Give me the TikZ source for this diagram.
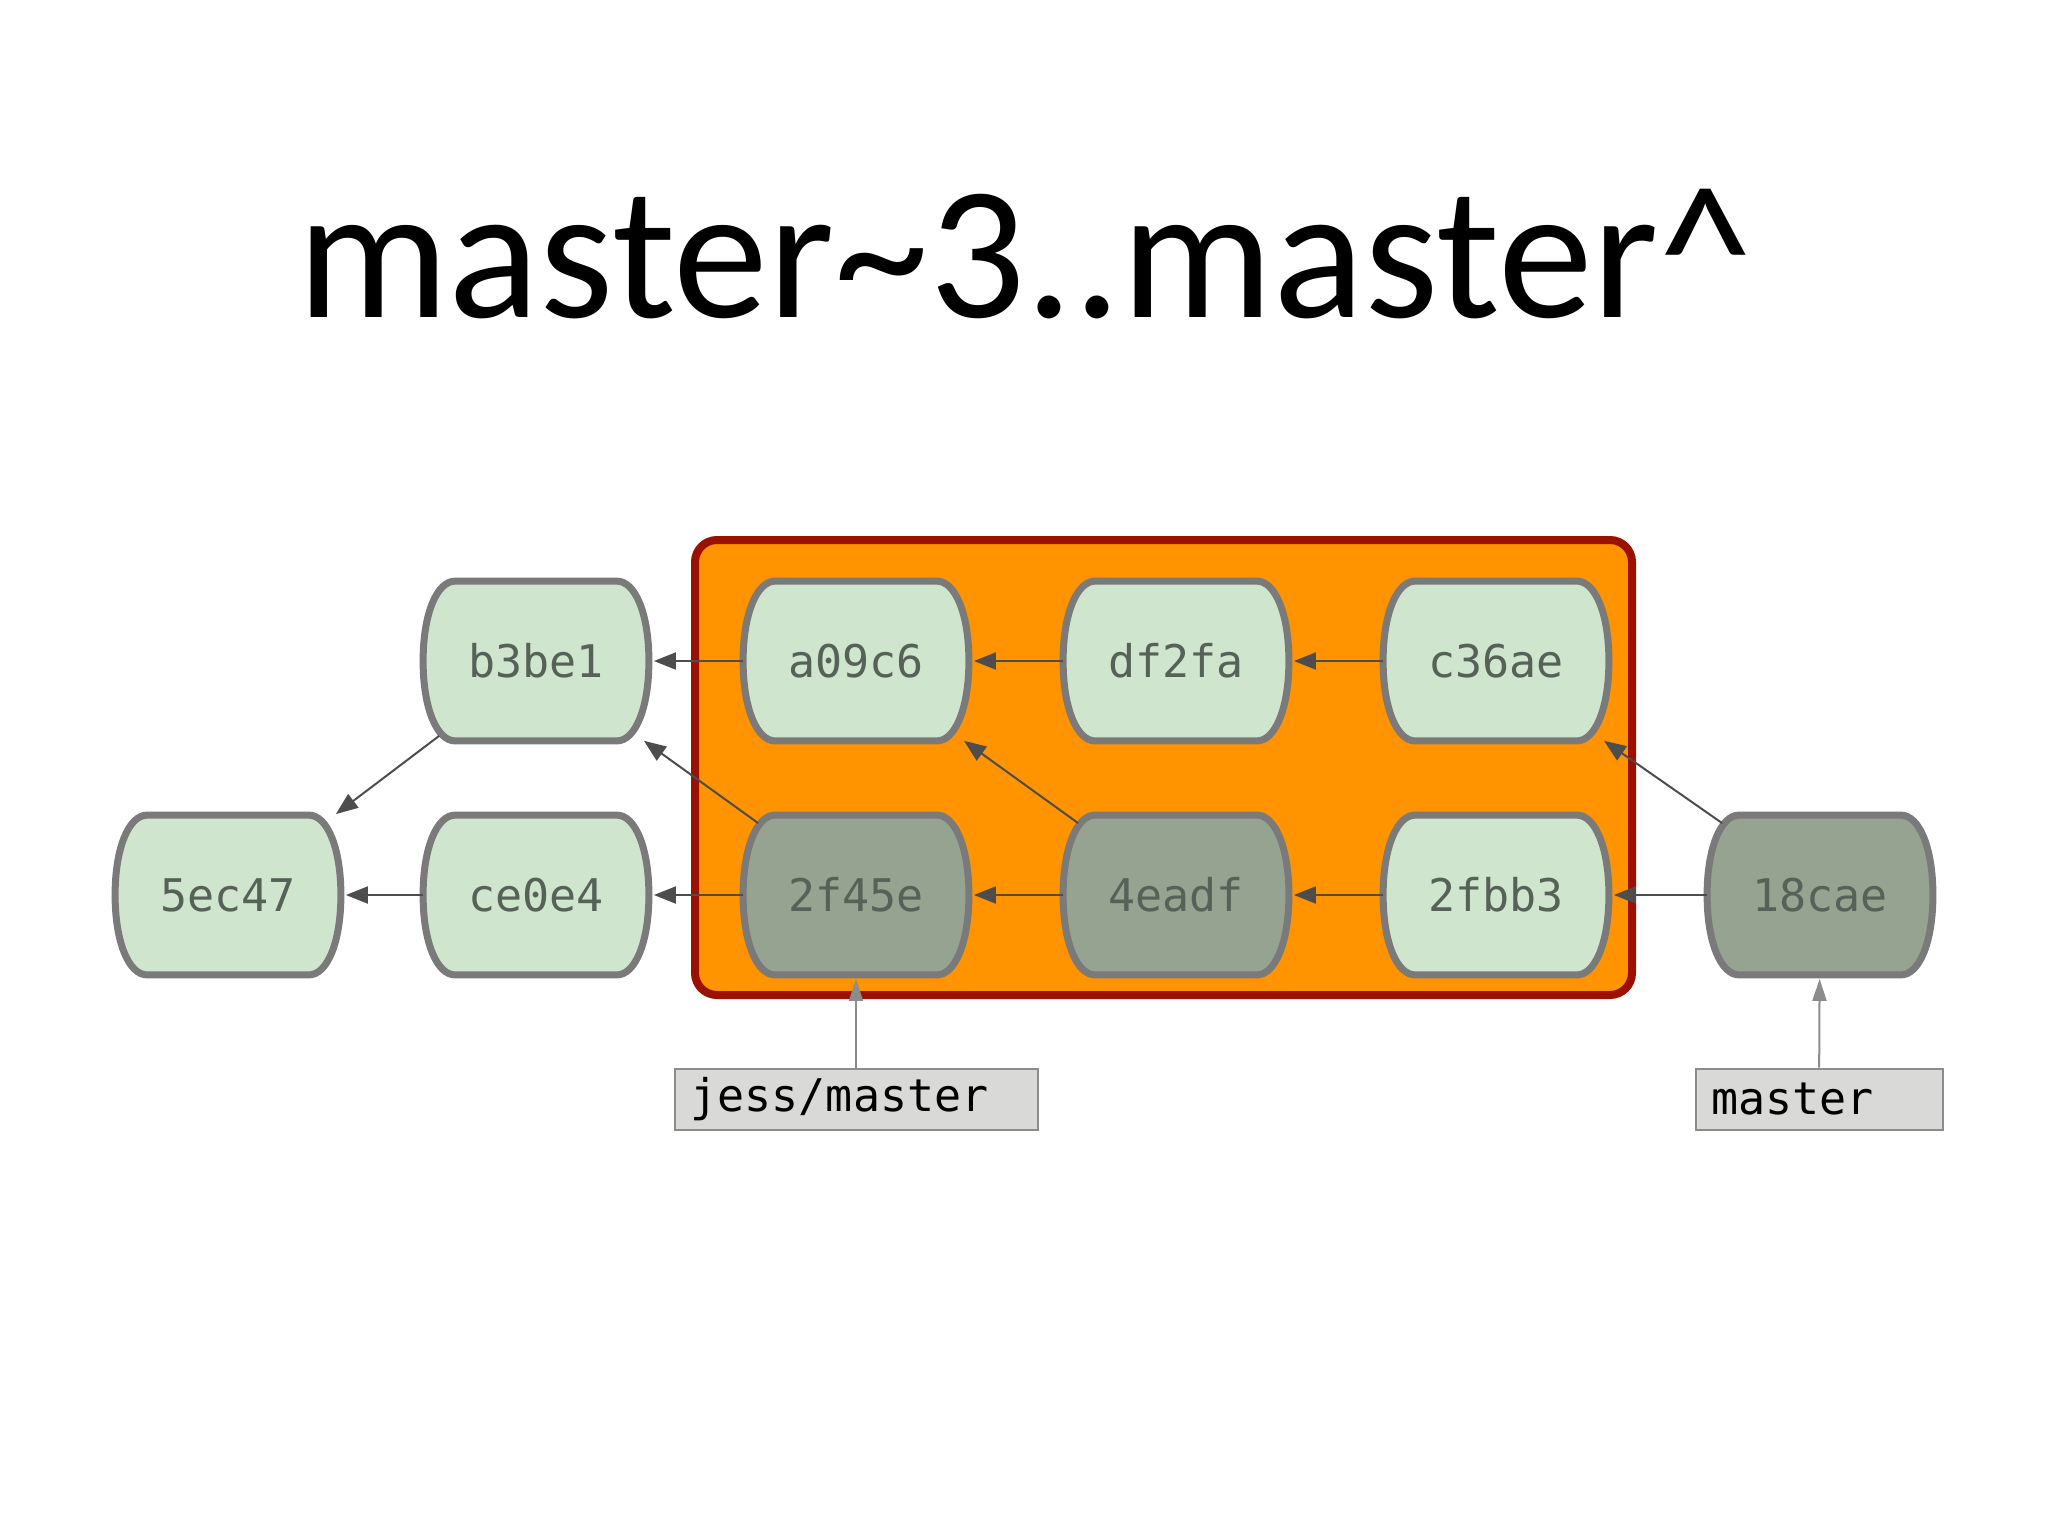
\documentclass[tikz,border=0pt]{standalone}
\usepackage{fontspec}
\usepackage{xcolor}
\usetikzlibrary{arrows.meta,backgrounds,calc}
\setmainfont{Carlito}
\newfontfamily\hashfont{DejaVu Sans Mono}

\definecolor{rangefill}{HTML}{FF9300}
\definecolor{rangeedge}{HTML}{9A1100}
\definecolor{commitlight}{HTML}{D0E5CD}
\definecolor{commitdark}{HTML}{95A390}
\definecolor{commitedge}{HTML}{7A7A7A}
\definecolor{hashtext}{HTML}{566157}
\definecolor{parentline}{HTML}{4D4D4D}
\definecolor{tagedge}{HTML}{8C8C8C}
\definecolor{tagfill}{HTML}{D9D9D7}

\begin{document}
\begin{tikzpicture}[x=0.5pt,y=-0.5pt,
	commit/.style={minimum width=112.5pt,minimum height=79.5pt,inner sep=0pt,text=hashtext,font=\hashfont\fontsize{22.5}{24}\selectfont},
	barrel/.style={draw=commitedge,line width=3.5pt},
	parent/.style={draw=parentline,line width=1pt,-{Triangle[length=11pt,width=8.5pt]},shorten >=2.5pt},
	tag/.style={draw=tagedge,fill=tagfill,line width=1pt,inner xsep=8pt,inner ysep=0pt,minimum height=30.5pt,align=left,text=black,font=\hashfont\fontsize{22.5}{24}\selectfont},
	tagline/.style={draw=tagedge,line width=1pt,-{Triangle[length=11pt,width=7pt]},shorten >=2pt}]
	\useasboundingbox (0,0) rectangle (2048,1536);
	\node[anchor=base west,font=\fontsize{95}{100}\selectfont] (title) at (290,317) {master\textasciitilde 3..master\textasciicircum};
	
	\node[commit] (c5ec47) at (228,895) {5ec47};
	\node[commit] (cb3be1) at (536,661) {b3be1};
	\node[commit] (cce0e4) at (536,895) {ce0e4};
	\node[commit] (ca09c6) at (856,661) {a09c6};
	\node[commit] (c2f45e) at (856,895) {2f45e};
	\node[commit] (cdf2fa) at (1176,661) {df2fa};
	\node[commit] (c4eadf) at (1176,895) {4eadf};
	\node[commit] (cc36ae) at (1496,661) {c36ae};
	\node[commit] (c2fbb3) at (1496,895) {2fbb3};
	\node[commit] (c18cae) at (1820,895) {18cae};
	
	\begin{scope}[on background layer]
		\draw[draw=rangeedge,fill=rangefill,line width=4pt,rounded corners=11pt] (695,540) rectangle (1632,995);
		\foreach \c/\f in {c5ec47/light,cb3be1/light,cce0e4/light,ca09c6/light,c2f45e/dark,cdf2fa/light,c4eadf/dark,cc36ae/light,c2fbb3/light,c18cae/dark}
			\draw[barrel,fill=commit\f] ([xshift=-16pt]\c.north east)
				.. controls ([xshift=-7pt]\c.north east) and ([yshift=-16pt]\c.north east) .. (\c.east)
				.. controls ([yshift=16pt]\c.south east) and ([xshift=-7pt]\c.south east) .. ([xshift=-16pt]\c.south east)
				-- ([xshift=16pt]\c.south west)
				.. controls ([xshift=7pt]\c.south west) and ([yshift=16pt]\c.south west) .. (\c.west)
				.. controls ([yshift=-16pt]\c.north west) and ([xshift=7pt]\c.north west) .. ([xshift=16pt]\c.north west)
				-- cycle;
	\end{scope}
	
	\draw[parent] (ca09c6) -- (cb3be1);
	\draw[parent] (cdf2fa) -- (ca09c6);
	\draw[parent] (cc36ae) -- (cdf2fa);
	\draw[parent] (cce0e4) -- (c5ec47);
	\draw[parent] (c2f45e) -- (cce0e4);
	\draw[parent] (c4eadf) -- (c2f45e);
	\draw[parent] (c2fbb3) -- (c4eadf);
	\draw[parent] (c18cae) -- (c2fbb3);
	\draw[parent] ($(c2f45e.north west)+(15,8)$) -- ($(cb3be1.south east)+(-9,-3)$);
	\draw[parent] ($(c4eadf.north west)+(15,8)$) -- ($(ca09c6.south east)+(-9,-3)$);
	\draw[parent] ($(c18cae.north west)+(15,8)$) -- ($(cc36ae.south east)+(-9,-3)$);
	\draw[parent] ($(cb3be1.south west)+(16,-5)$) -- ($(c5ec47.north east)+(-9,2)$);
	
	\node[tag,text width=165.5pt] (tjess) at (856,1099) {jess/master};
	\node[tag,text width=107.5pt] (tmaster) at (1819,1099) {master};
	\draw[tagline] (tjess) -- (c2f45e);
	\draw[tagline] (tmaster) -- (c18cae);
\end{tikzpicture}
\end{document}
